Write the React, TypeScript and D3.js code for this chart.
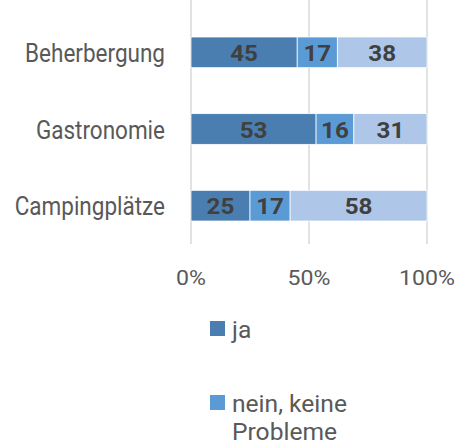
import React from "react";
import * as d3 from "d3";

const categories = ["Beherbergung", "Gastronomie", "Campingplätze"];
const seriesNames = ["ja", "nein, keine Probleme", "nein, Probleme"];
const ja = [45, 53, 25];
const neinKeine = [17, 16, 17];
const neinProbleme = [38, 31, 58];
const ticks = [0, 50, 100];

const colors = ["#4a7eb0", "#5b9bd5", "#aec7e8"];
const font = "'Roboto', sans-serif";

export default function App() {
  const width = 458;
  const height = 445;

  const x = d3.scaleLinear().domain([0, 100]).range([191, 427]);
  const y = d3
    .scaleBand()
    .domain(categories)
    .range([14, 244])
    .paddingInner(0.6)
    .paddingOuter(0.3);

  const rows = categories.map((c, i) => ({
    cat: c,
    ja: ja[i],
    keine: neinKeine[i],
    probleme: neinProbleme[i],
  }));
  const stack = d3.stack<any>().keys(["ja", "keine", "probleme"])(rows);
  const mid = (c: string) => (y(c) as number) + y.bandwidth() / 2;

  return (
    <svg
      width={width}
      height={height}
      style={{ position: "absolute", left: 0, top: 0 }}
      fontFamily={font}
    >
      <rect width={width} height={height} fill="#fff" />
      {ticks.map((t) => (
        <g key={t}>
          <line x1={x(t)} x2={x(t)} y1={0} y2={244} stroke="#d9d9d9" strokeWidth={1.5} />
          <text
            transform={`translate(${x(t)},285) scale(1.1,1)`}
            textAnchor="middle"
            fontSize={21}
            fill="#595959"
          >
            {t}%
          </text>
        </g>
      ))}
      {stack.map((s, si) =>
        s.map((d, i) => (
          <g key={si + "-" + i}>
            <rect
              x={x(d[0])}
              y={y(categories[i])}
              width={x(d[1]) - x(d[0])}
              height={y.bandwidth()}
              fill={colors[si]}
              stroke="#fff"
              strokeWidth={0.75}
            />
            <text
              transform={`translate(${(x(d[0]) + x(d[1])) / 2},${mid(categories[i]) + 8.5}) scale(1.1,1)`}
              textAnchor="middle"
              fontSize={22}
              fontWeight="bold"
              fill="#404040"
            >
              {d[1] - d[0]}
            </text>
          </g>
        ))
      )}
      {categories.map((c) => (
        <text
          key={c}
          transform={`translate(165,${mid(c) + 9.5}) scale(0.9,1)`}
          textAnchor="end"
          fontSize={25}
          fill="#595959"
        >
          {c}
        </text>
      ))}
      <g>
        <rect x={210} y={321} width={15} height={15} fill={colors[0]} />
        <text transform="translate(232,338) scale(1.07,1)" fontSize={23} fill="#595959">
          {seriesNames[0]}
        </text>
        <rect x={210} y={395} width={15} height={15} fill={colors[1]} />
        <text transform="translate(232,412) scale(1.07,1)" fontSize={23} fill="#595959">
          <tspan x={0}>nein, keine</tspan>
          <tspan x={0} dy={28}>Probleme</tspan>
        </text>
      </g>
    </svg>
  );
}
